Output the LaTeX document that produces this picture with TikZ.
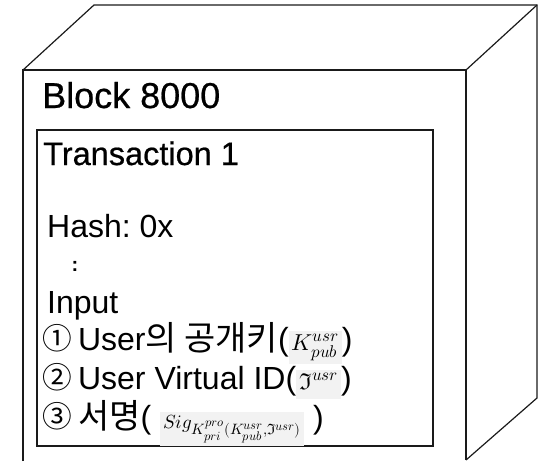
\documentclass[tikz,border=0pt]{standalone}
\usepackage{fontspec}
\usepackage{unicode-math}
\setmainfont{Liberation Sans}
\newfontfamily\kr[Scale=1.06]{Noto Sans CJK KR}
\DeclareMathSizes{23}{23}{17}{13}
\DeclareMathSizes{19}{19}{15}{12.5}
\definecolor{mathbg}{HTML}{F2F2F2}
\definecolor{edge}{HTML}{1A1A1A}
\tikzset{
  edgeline/.style={draw=edge, line width=1.2pt, line join=miter},
  txt/.style={anchor=base west, inner sep=0pt, font=\fontsize{32}{32}\selectfont},
  titletxt/.style={anchor=base west, inner sep=0pt},
}
\newcommand{\mathpatch}[2]{\setlength{\fboxsep}{3pt}\colorbox{mathbg}{\fontsize{#1}{#1}\selectfont\strut$#2$}}
\newcommand{\circnum}[1]{\makebox[20pt]{\raisebox{0.5pt}{\fontsize{28}{28}\selectfont\kr #1}}\hspace{2pt}}
\frenchspacing
\begin{document}
\begin{tikzpicture}[x=1pt,y=1pt]
\useasboundingbox (0,0) rectangle (543,-461);
% cube outline
\coordinate (btl) at (94,-5);
\coordinate (btr) at (537,-5);
\coordinate (bbr) at (537,-398);
\coordinate (ftl) at (23,-70);
\coordinate (ftr) at (466,-70);
\coordinate (fbl) at (23,-461);
\coordinate (fbr) at (466,-460);
\draw[edgeline] (fbl) -- (ftl) -- (ftr) -- (fbr);
\draw[edgeline] (ftl) -- (btl) -- (btr) -- (bbr) -- (fbr);
\draw[edgeline] (ftr) -- (btr);
% inner transaction box
\draw[edgeline, line width=1.5pt] (37,-130) rectangle (433,-446);
% texts
\node[titletxt, font=\fontsize{36}{36}\selectfont\addfontfeature{FakeBold=0.6}] (blk) at (42,-108) {Block 8000};
\node[titletxt, font=\fontsize{32.5}{32.5}\selectfont\addfontfeature{FakeBold=0.6}] (tx) at (43,-165) {Transaction 1};
\node[txt] (hash) at (47,-237) {Hash: 0x};
\node[inner sep=0pt, font=\bfseries\fontsize{20}{20}\selectfont] (dots) at (75,-266) {:};
\node[txt] (inp) at (47,-313) {Input};
\node[txt] (l1) at (47,-350) {\circnum{①} User{\kr 의 공개키}(\mathpatch{23}{K^{usr}_{pub}})};
\node[txt] (l2) at (47,-389) {\circnum{②} User Virtual ID(\mathpatch{23}{\mathfrak{I}^{usr}})};
\node[txt] (l3) at (47,-428) {\circnum{③} {\kr 서명}( \mathpatch{19}{Sig_{K^{pro}_{pri}(K^{usr}_{pub},\mathfrak{I}^{usr})}} )};
\end{tikzpicture}
\end{document}
